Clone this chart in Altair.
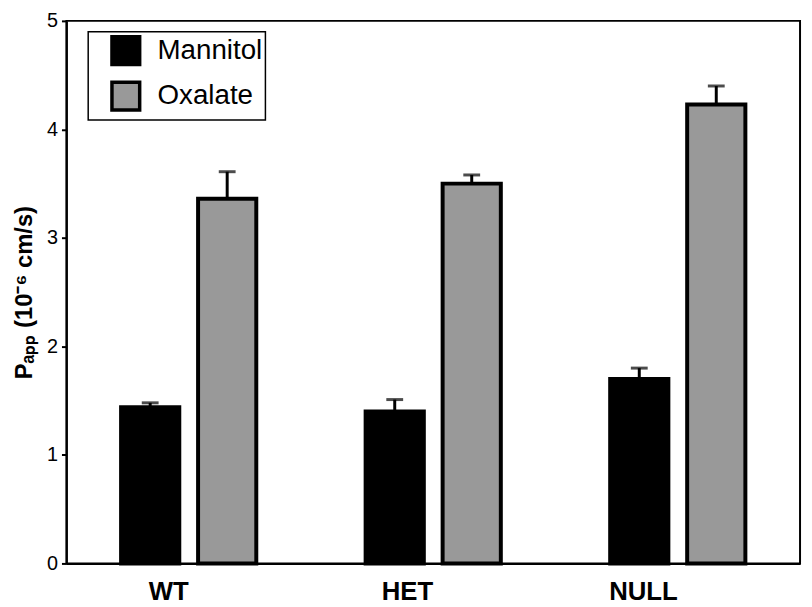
import altair as alt
import pandas as pd

groups = ["WT", "HET", "NULL"]
series = ["Mannitol", "Oxalate"]
mannitol = [1.44, 1.40, 1.70]
mannitol_err = [0.04, 0.11, 0.10]
oxalate = [3.36, 3.50, 4.23]
oxalate_err = [0.25, 0.08, 0.17]

rows = []
for g, v, e in zip(groups, mannitol, mannitol_err):
    rows.append({"group": g, "series": "Mannitol", "value": v, "top": v + e})
for g, v, e in zip(groups, oxalate, oxalate_err):
    rows.append({"group": g, "series": "Oxalate", "value": v, "top": v + e})
df = pd.DataFrame(rows)

FONT = "Liberation Sans"

x_enc = alt.X("group:N", sort=groups, scale=alt.Scale(paddingInner=0, paddingOuter=0),
              axis=alt.Axis(title=None, ticks=False, labelAngle=0, labelFontSize=26,
                            labelFontWeight="bold", labelFont=FONT, labelColor="black",
                            labelPadding=28, domainColor="black", domainWidth=2))
xo_enc = alt.XOffset("series:N", sort=series,
                     scale=alt.Scale(paddingInner=0.244, paddingOuter=0.71))

y_axis = alt.Axis(title="Pₐₚₚ (10⁻⁶ cm/s)", values=[0, 1, 2, 3, 4, 5], format="d", grid=False,
                  titleFontSize=24, titleFontWeight="bold", titleFont=FONT, titleColor="black",
                  titlePadding=10, labelFontSize=20, labelFont=FONT, labelColor="black",
                  labelPadding=4, tickSize=5, tickWidth=2, tickColor="black",
                  domainColor="black", domainWidth=2)

base = alt.Chart(df)

bars = base.mark_bar(stroke="black", strokeWidth=4).encode(
    x=x_enc,
    xOffset=xo_enc,
    y=alt.Y("value:Q", scale=alt.Scale(domain=[0, 5], nice=False), axis=y_axis),
    fill=alt.Fill("series:N", sort=series,
                  scale=alt.Scale(domain=series, range=["#000000", "#999999"]),
                  legend=alt.Legend(title=None, orient="none", legendX=22, legendY=11,
                                    symbolType="square", symbolSize=784,
                                    symbolStrokeColor="black", symbolStrokeWidth=3.5,
                                    symbolOpacity=1, labelFontSize=28, labelFont=FONT,
                                    labelColor="black", labelOffset=16, padding=3,
                                    symbolOffset=19, rowPadding=4, strokeColor="black")),
)

err_line = base.mark_rule(color="black", strokeWidth=3).encode(
    x=alt.X("group:N", sort=groups),
    xOffset=xo_enc,
    y=alt.Y("value:Q"),
    y2="top:Q",
)

caps = base.mark_tick(color="black", thickness=3, size=17, orient="horizontal").encode(
    x=alt.X("group:N", sort=groups),
    xOffset=xo_enc,
    y=alt.Y("top:Q"),
)

chart = alt.layer(err_line, bars, caps).properties(
    width=741, height=548,
    autosize=alt.AutoSizeParams(type="none"),
    padding={"left": 59, "top": 10, "right": 4, "bottom": 41},
).configure_view(stroke="black", strokeWidth=2).configure_legend(strokeWidth=1.5)

chart.save("out.html", embed_options={"renderer": "svg", "actions": False})
